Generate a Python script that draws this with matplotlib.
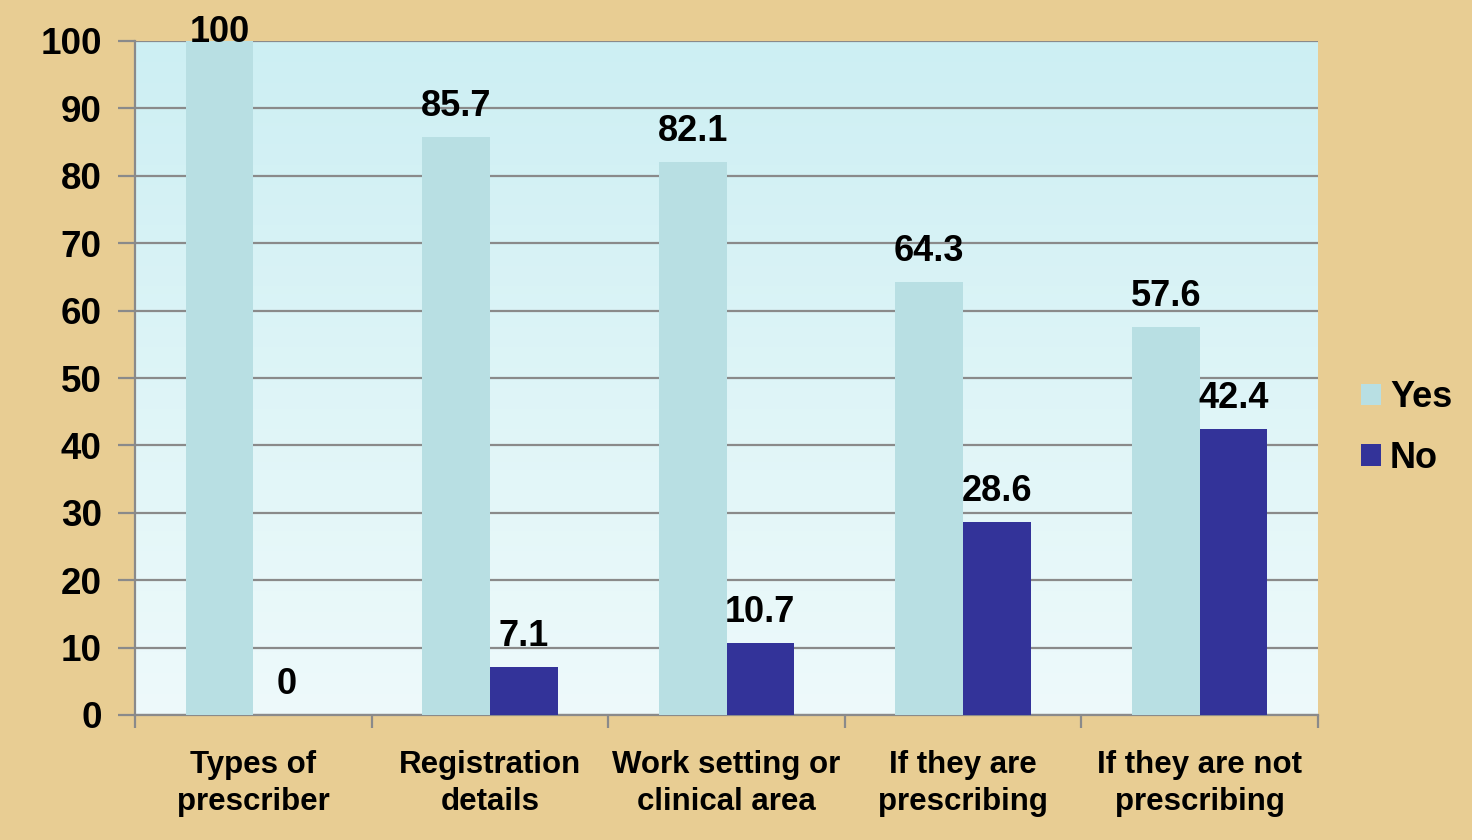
import numpy as np
import matplotlib
matplotlib.use('Agg')
import matplotlib.pyplot as plt

categories = ['Types of\nprescriber', 'Registration\ndetails', 'Work setting or\nclinical area',
              'If they are\nprescribing', 'If they are not\nprescribing']
yes_values = [100, 85.7, 82.1, 64.3, 57.6]
no_values = [0, 7.1, 10.7, 28.6, 42.4]
series_names = ['Yes', 'No']
y_ticks = list(range(0, 101, 10))

plt.rcParams['font.family'] = ['Liberation Sans', 'DejaVu Sans']
plt.rcParams['font.weight'] = 'bold'

fig = plt.figure(figsize=(14.72, 8.4), dpi=100)
fig.patch.set_facecolor('#E8CD93')
ax = fig.add_axes([135 / 1472, 1 - 715 / 840, (1318 - 135) / 1472, (715 - 41) / 840])

# plot area gradient (darker at top)
grad = np.linspace(0, 1, 256).reshape(-1, 1)
top_c = np.array([205, 239, 243]) / 255
bot_c = np.array([238, 250, 251]) / 255
img = top_c * (1 - grad[..., None]) + bot_c * grad[..., None]
img = img.reshape(256, 1, 3)
ax.imshow(img, extent=[0, 1, 0, 1], transform=ax.transAxes, aspect='auto', zorder=0)

x = np.arange(len(categories))
w = 0.286
ax.bar(x - w / 2, yes_values, w, color='#B8DFE3', label=series_names[0], zorder=3)
ax.bar(x + w / 2, no_values, w, color='#333399', label=series_names[1], zorder=3)

for xs, vals in ((x - w / 2, yes_values), (x + w / 2, no_values)):
    for xi, v in zip(xs, vals):
        off = 22 if v < 95 else 6
        ax.annotate(f'{v:g}', (xi, v), xytext=(0, off), textcoords='offset points',
                    ha='center', va='center', fontsize=26, fontweight='bold',
                    annotation_clip=False, zorder=5)

ax.set_xlim(-0.5, len(categories) - 0.5)
ax.set_ylim(0, 100)
ax.set_yticks(y_ticks)
ax.set_yticklabels([str(t) for t in y_ticks], fontsize=26.5, fontweight='bold')
ax.yaxis.grid(True, color='#8A8A8A', linewidth=1.6, zorder=1)
ax.set_axisbelow(True)

ax.set_xticks(x)
ax.set_xticklabels(categories, fontsize=22.5, fontweight='bold', linespacing=1.3)
ax.set_xticks(np.arange(-0.5, len(categories)), minor=True)
ax.tick_params(axis='x', which='major', length=0, pad=25)
ax.tick_params(axis='x', which='minor', length=9, width=1.6, color='#8A8A8A')
ax.tick_params(axis='y', length=12, width=1.6, color='#8A8A8A', pad=12)

for s in ('top', 'right'):
    ax.spines[s].set_visible(False)
for s in ('left', 'bottom'):
    ax.spines[s].set_color('#8A8A8A')
    ax.spines[s].set_linewidth(1.6)

fig.legend(loc='center left', bbox_to_anchor=(1343 / 1472, 1 - 428 / 840), frameon=False,
           prop={'size': 26, 'weight': 'bold'}, handlelength=0.55, handleheight=0.55,
           handletextpad=0.25, labelspacing=0.7, borderpad=0)

fig.savefig('out.png', dpi=100, facecolor=fig.get_facecolor())
